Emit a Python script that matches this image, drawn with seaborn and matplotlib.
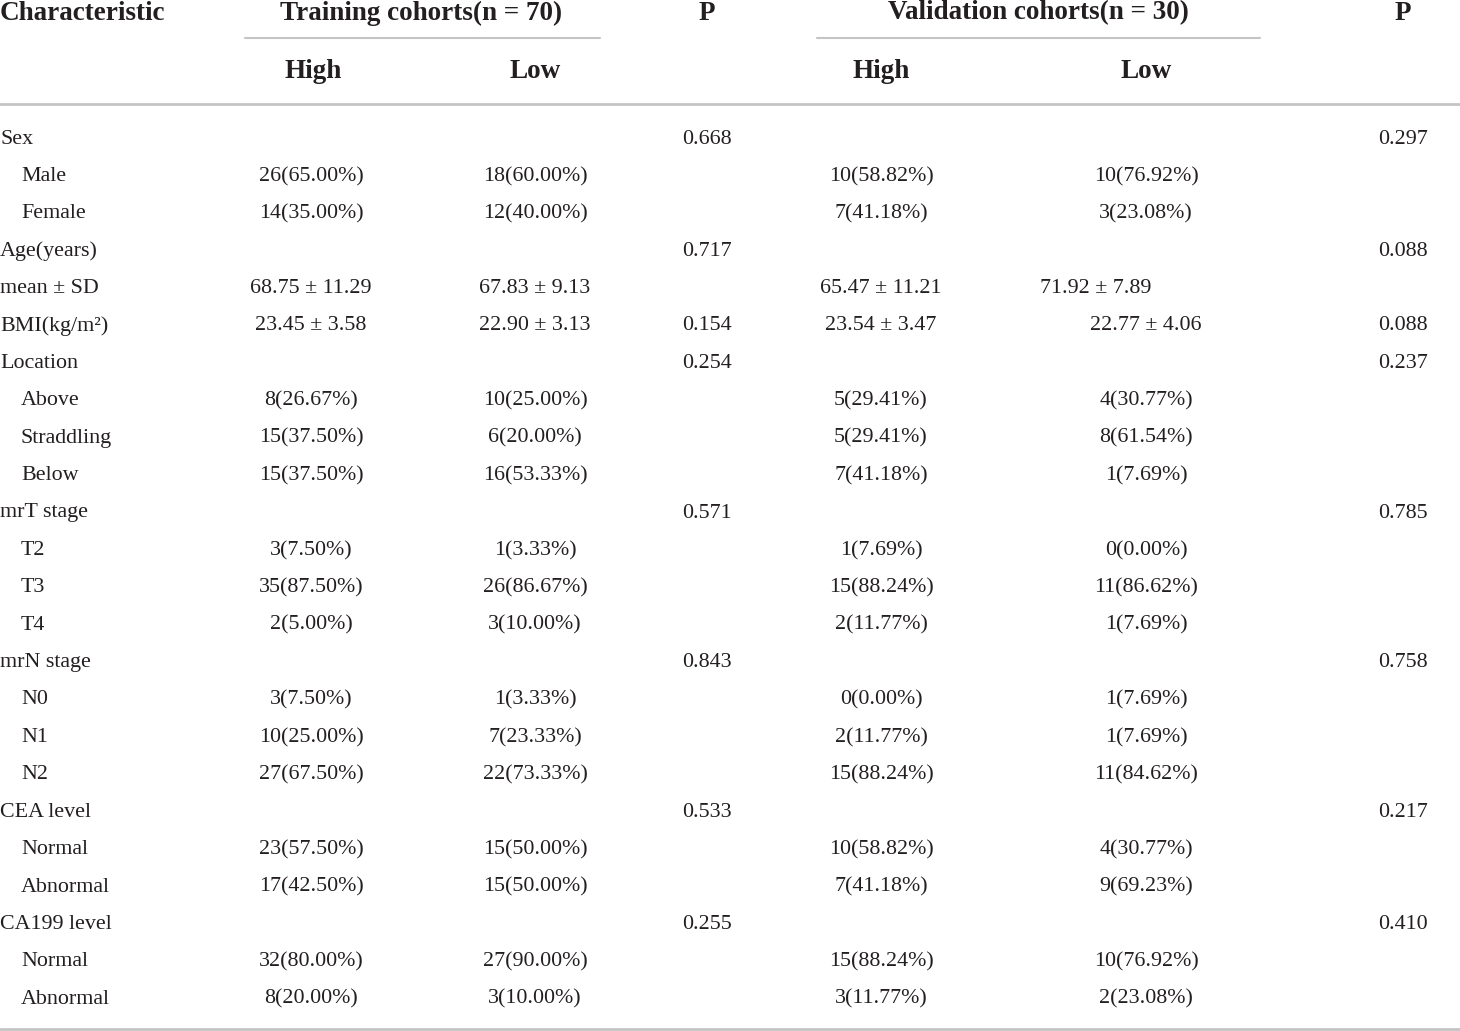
import matplotlib.pyplot as plt
import seaborn as sns

# table content
characteristics = ['Sex', 'Male', 'Female', 'Age(years)', 'mean ± SD', 'BMI(kg/m²)',
                   'Location', 'Above', 'Straddling', 'Below',
                   'mrT stage', 'T2', 'T3', 'T4',
                   'mrN stage', 'N0', 'N1', 'N2',
                   'CEA level', 'Normal', 'Abnormal',
                   'CA199 level', 'Normal', 'Abnormal']
indented = [0, 1, 1, 0, 0, 0, 0, 1, 1, 1, 0, 1, 1, 1, 0, 1, 1, 1, 0, 1, 1, 0, 1, 1]

train_high = ['', '26(65.00%)', '14(35.00%)', '', '68.75 ± 11.29', '23.45 ± 3.58',
              '', '8(26.67%)', '15(37.50%)', '15(37.50%)',
              '', '3(7.50%)', '35(87.50%)', '2(5.00%)',
              '', '3(7.50%)', '10(25.00%)', '27(67.50%)',
              '', '23(57.50%)', '17(42.50%)',
              '', '32(80.00%)', '8(20.00%)']
train_low = ['', '18(60.00%)', '12(40.00%)', '', '67.83 ± 9.13', '22.90 ± 3.13',
             '', '10(25.00%)', '6(20.00%)', '16(53.33%)',
             '', '1(3.33%)', '26(86.67%)', '3(10.00%)',
             '', '1(3.33%)', '7(23.33%)', '22(73.33%)',
             '', '15(50.00%)', '15(50.00%)',
             '', '27(90.00%)', '3(10.00%)']
train_p = ['0.668', '', '', '0.717', '', '0.154',
           '0.254', '', '', '',
           '0.571', '', '', '',
           '0.843', '', '', '',
           '0.533', '', '',
           '0.255', '', '']
val_high = ['', '10(58.82%)', '7(41.18%)', '', '65.47 ± 11.21', '23.54 ± 3.47',
            '', '5(29.41%)', '5(29.41%)', '7(41.18%)',
            '', '1(7.69%)', '15(88.24%)', '2(11.77%)',
            '', '0(0.00%)', '2(11.77%)', '15(88.24%)',
            '', '10(58.82%)', '7(41.18%)',
            '', '15(88.24%)', '3(11.77%)']
val_low = ['', '10(76.92%)', '3(23.08%)', '', '71.92 ± 7.89', '22.77 ± 4.06',
           '', '4(30.77%)', '8(61.54%)', '1(7.69%)',
           '', '0(0.00%)', '11(86.62%)', '1(7.69%)',
           '', '1(7.69%)', '1(7.69%)', '11(84.62%)',
           '', '4(30.77%)', '9(69.23%)',
           '', '10(76.92%)', '2(23.08%)']
val_p = ['0.297', '', '', '0.088', '', '0.088',
         '0.237', '', '', '',
         '0.785', '', '', '',
         '0.758', '', '', '',
         '0.217', '', '',
         '0.410', '', '']

sns.set_theme(style='white')
plt.rcParams['font.family'] = ['Liberation Serif', 'DejaVu Serif']

ink = '#231f20'
rule = '#c4c4c4'
body_size = 15.8
head_size = 19.5

fig = plt.figure(figsize=(14.6, 10.31), dpi=100)
ax = fig.add_axes([0, 0, 1, 1])
ax.set_xlim(0, 1460)
ax.set_ylim(1031, 0)
ax.axis('off')

# header
ax.text(0, 13, 'Characteristic', ha='left', va='center', fontsize=head_size, fontweight='bold', color=ink)
ax.text(421, 13, 'Training cohorts(n = 70)', ha='center', va='center', fontsize=head_size, fontweight='bold', color=ink)
ax.text(707, 13, 'P', ha='center', va='center', fontsize=head_size, fontweight='bold', color=ink)
ax.text(1038, 13, 'Validation cohorts(n = 30)', ha='center', va='center', fontsize=head_size, fontweight='bold', color=ink)
ax.text(1403, 13, 'P', ha='center', va='center', fontsize=head_size, fontweight='bold', color=ink)
for x, lab in [(313, 'High'), (535, 'Low'), (881, 'High'), (1146, 'Low')]:
    ax.text(x, 71, lab, ha='center', va='center', fontsize=head_size, fontweight='bold', color=ink)

ax.plot([245, 600], [38, 38], color=rule, lw=1.5)
ax.plot([817, 1260], [38, 38], color=rule, lw=1.5)
ax.plot([0, 1460], [104, 104], color=rule, lw=2)
ax.plot([0, 1460], [1029, 1029], color=rule, lw=2)

# body rows
y0, step = 139, 37.4
for i, name in enumerate(characteristics):
    y = y0 + i * step
    ax.text(21 if indented[i] else 0, y, name, ha='left', va='center', fontsize=body_size, color=ink)
    ax.text(311, y, train_high[i], ha='center', va='center', fontsize=body_size, color=ink)
    ax.text(535, y, train_low[i], ha='center', va='center', fontsize=body_size, color=ink)
    ax.text(707, y, train_p[i], ha='center', va='center', fontsize=body_size, color=ink)
    ax.text(881, y, val_high[i], ha='center', va='center', fontsize=body_size, color=ink)
    if name == 'mean ± SD':
        ax.text(1040, y, val_low[i], ha='left', va='center', fontsize=body_size, color=ink)
    else:
        ax.text(1146, y, val_low[i], ha='center', va='center', fontsize=body_size, color=ink)
    ax.text(1403, y, val_p[i], ha='center', va='center', fontsize=body_size, color=ink)

fig.savefig('out.png', dpi=100, facecolor='white')
